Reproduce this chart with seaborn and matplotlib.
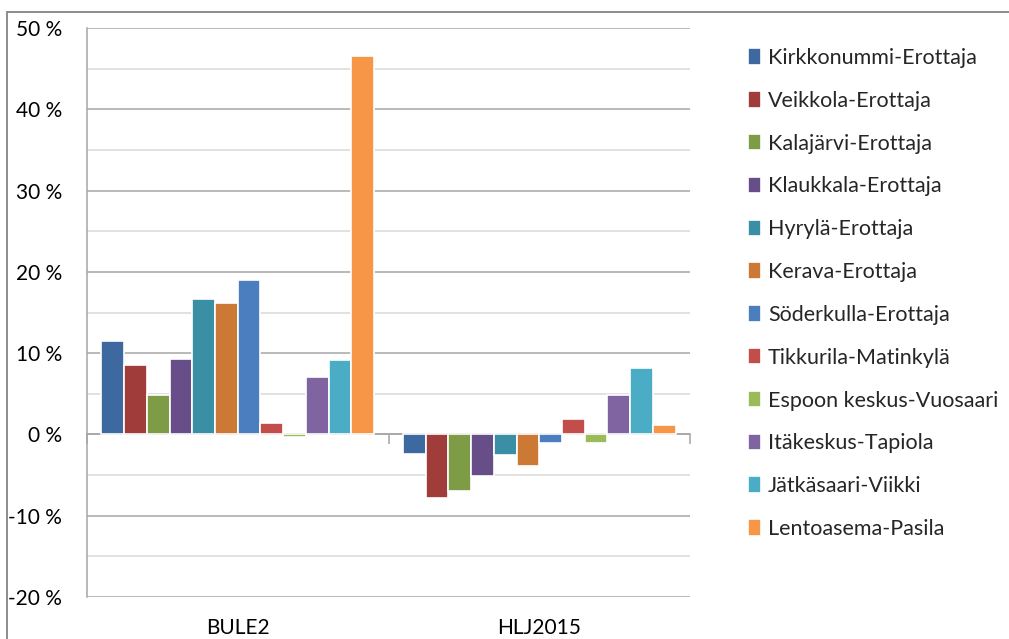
import numpy as np
import pandas as pd
import seaborn as sns
import matplotlib.pyplot as plt
from matplotlib.patches import Rectangle
from matplotlib.ticker import MultipleLocator, FuncFormatter

# data (percent change)
groups = ['BULE2', 'HLJ2015']
routes = ['Kirkkonummi-Erottaja', 'Veikkola-Erottaja', 'Kalajärvi-Erottaja',
          'Klaukkala-Erottaja', 'Hyrylä-Erottaja', 'Kerava-Erottaja',
          'Söderkulla-Erottaja', 'Tikkurila-Matinkylä', 'Espoon keskus-Vuosaari',
          'Itäkeskus-Tapiola', 'Jätkäsaari-Viikki', 'Lentoasema-Pasila']
bule2 = [11.5, 8.6, 4.8, 9.3, 16.6, 16.2, 19.0, 1.4, -0.3, 7.1, 9.2, 46.5]
hlj2015 = [-2.4, -7.8, -6.9, -5.1, -2.5, -3.9, -1.1, 1.9, -1.1, 4.8, 8.2, 1.1]
colors = ['#3D69A0', '#A03D3A', '#7E9C45', '#674E88', '#3A8FA5', '#CB7934',
          '#4A7EBF', '#C24E4B', '#9BBB59', '#8064A2', '#4BACC6', '#F79646']

df = pd.DataFrame({
    'group': np.repeat(groups, len(routes)),
    'route': routes * 2,
    'value': bule2 + hlj2015,
})

sns.set_style('white')
plt.rcParams['font.family'] = ['Lato', 'DejaVu Sans']

fig = plt.figure(figsize=(10.09, 6.39), dpi=100)
ax = fig.add_axes([87 / 1009, 1 - 597 / 639, (690 - 87) / 1009, (597 - 28) / 639])

sns.barplot(data=df, x='group', y='value', hue='route', hue_order=routes,
            palette=colors, width=0.905, edgecolor='white', linewidth=1.2,
            saturation=1, ax=ax)

ax.set_ylim(-20, 50)
ax.set_xlim(-0.5, 1.5)
ax.yaxis.set_major_locator(MultipleLocator(10))
ax.yaxis.set_minor_locator(MultipleLocator(5))
ax.yaxis.set_major_formatter(FuncFormatter(lambda v, p: f'{v:.0f} %'))
ax.grid(axis='y', which='major', color='#a6a6a6', lw=1.1)
ax.grid(axis='y', which='minor', color='#d9d9d9', lw=1.1)
ax.set_axisbelow(True)
ax.tick_params(axis='y', which='major', length=7, width=1.1, color='#a6a6a6',
               pad=11, labelsize=15, labelcolor='black')
ax.tick_params(axis='y', which='minor', length=0)
ax.tick_params(axis='x', length=0, pad=15, labelsize=15, labelcolor='black')
ax.set_xlabel('')
ax.set_ylabel('')
for s in ['top', 'right', 'bottom']:
    ax.spines[s].set_visible(False)
ax.spines['left'].set_color('#a6a6a6')
ax.spines['left'].set_linewidth(1.1)

# zero line with category boundary ticks
zero = ax.secondary_xaxis(20 / 70)
zero.set_xticks([-0.5, 0.5, 1.5])
zero.set_xticklabels([])
zero.tick_params(length=7, width=1.1, color='#a6a6a6')
zero.spines['bottom'].set_color('#a6a6a6')
zero.spines['bottom'].set_linewidth(1.1)

handles, labels = ax.get_legend_handles_labels()
ax.legend(handles, labels, loc='upper left', bbox_to_anchor=(748 / 1009, 1 - 48 / 639),
          bbox_transform=fig.transFigure, frameon=False, fontsize=15.5,
          handlelength=0.62, handleheight=0.8, handletextpad=0.3,
          labelspacing=1.06, borderaxespad=0, borderpad=0)

fig.patches.append(Rectangle((7 / 1009, -0.1), 1.2, 1.1 - 12 / 639,
                             transform=fig.transFigure, fill=False,
                             ec='#8c8c8c', lw=1.4))

fig.savefig('out.png', dpi=100)
